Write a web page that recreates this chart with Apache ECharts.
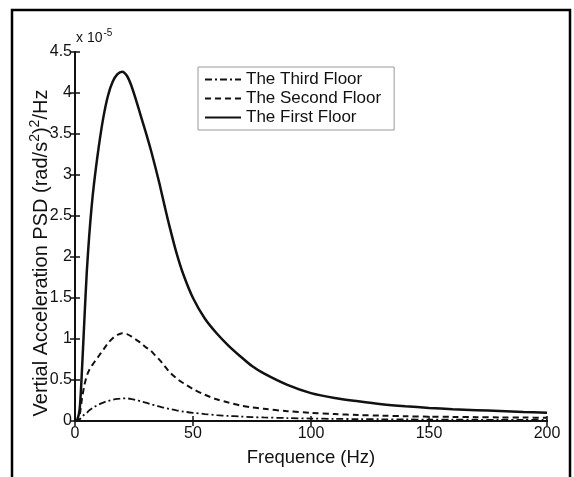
<!DOCTYPE html>
<html>
<head>
<meta charset="utf-8">
<style>
html, body { margin: 0; padding: 0; background: #fff; }
#chart { width: 574px; height: 477px; }
</style>
<script src="https://cdn.jsdelivr.net/npm/echarts@6/dist/echarts.min.js"></script>
</head>
<body>
<div id="chart"></div>
<script>
var myChart = echarts.init(document.getElementById('chart'));

// 频率 (Hz)
var freq = [0, 1, 2, 3, 4, 5, 6, 7, 8, 10, 12, 14, 16, 18, 20, 22, 24, 26, 28, 30, 32, 34, 36, 38, 40, 43, 46, 50, 55, 60, 65, 70, 75, 80, 90, 100, 110, 120, 130, 140, 150, 160, 170, 180, 190, 200];
// PSD, 单位 1e-5
var firstFloor = [0, 0.02, 0.15, 0.65, 1.25, 1.82, 2.25, 2.6, 2.88, 3.33, 3.7, 3.97, 4.14, 4.23, 4.26, 4.21, 4.08, 3.9, 3.71, 3.52, 3.32, 3.1, 2.87, 2.62, 2.38, 2.05, 1.78, 1.5, 1.25, 1.07, 0.92, 0.79, 0.67, 0.58, 0.44, 0.34, 0.28, 0.24, 0.205, 0.18, 0.16, 0.143, 0.132, 0.122, 0.11, 0.1];
var secondFloor = [0, 0, 0.08, 0.28, 0.44, 0.55, 0.62, 0.67, 0.71, 0.79, 0.87, 0.95, 1.01, 1.05, 1.07, 1.06, 1.03, 0.99, 0.95, 0.9, 0.86, 0.8, 0.74, 0.67, 0.6, 0.52, 0.46, 0.39, 0.32, 0.265, 0.225, 0.19, 0.165, 0.148, 0.12, 0.1, 0.085, 0.073, 0.065, 0.058, 0.053, 0.05, 0.047, 0.044, 0.042, 0.04];
var thirdFloor = [0, 0, 0.02, 0.05, 0.08, 0.1, 0.13, 0.15, 0.17, 0.2, 0.225, 0.245, 0.26, 0.27, 0.275, 0.275, 0.268, 0.255, 0.24, 0.225, 0.205, 0.19, 0.175, 0.16, 0.148, 0.13, 0.115, 0.1, 0.085, 0.072, 0.062, 0.055, 0.048, 0.043, 0.036, 0.03, 0.026, 0.023, 0.021, 0.019, 0.017, 0.016, 0.015, 0.014, 0.013, 0.012];

var names = ['The Third Floor', 'The Second Floor', 'The First Floor'];

function pairs(ys) {
	var out = [];
	for (var i = 0; i < freq.length; i++) {
		out.push([freq[i], ys[i]]);
	}
	return out;
}

var font = 'Liberation Sans, Arial, sans-serif';
var ink = '#111';

// 坐标轴样式
function axisBase(extra) {
	var o = {
		type: 'value',
		axisLine: { lineStyle: { color: ink, width: 2 } },
		axisTick: { inside: true, length: 5, lineStyle: { color: ink, width: 1.5 } },
		axisLabel: { color: ink, fontSize: 16, fontFamily: font },
		splitLine: { show: false }
	};
	for (var k in extra) o[k] = extra[k];
	return o;
}

myChart.setOption({
	animation: false,
	grid: {
		left: 75,
		right: 27,
		top: 52,
		bottom: 56
	},
	legend: {
		data: names,
		orient: 'vertical',
		left: 198,
		top: 67,
		itemWidth: 36,
		itemHeight: 14,
		itemGap: 2,
		padding: [4, 13, 4, 6],
		borderColor: '#999',
		borderWidth: 1,
		itemStyle: { opacity: 0 },
		textStyle: {
			color: ink,
			fontSize: 17,
			fontFamily: font
		}
	},
	xAxis: [axisBase({
		min: 0,
		max: 200,
		interval: 50,
		name: 'Frequence (Hz)',
		nameLocation: 'middle',
		nameGap: 27,
		nameTextStyle: { color: ink, fontSize: 18.5, fontFamily: font },
		axisLabel: { color: ink, fontSize: 16, fontFamily: font, margin: 5 }
	}), axisBase({
		position: 'top',
		min: 0,
		max: 200,
		interval: 50,
		axisLabel: { show: false }
	})],
	yAxis: [axisBase({
		min: 0,
		max: 4.5,
		interval: 0.5,
		axisLabel: { color: ink, fontSize: 16, fontFamily: font, margin: 3 }
	}), axisBase({
		position: 'right',
		min: 0,
		max: 4.5,
		interval: 0.5,
		axisLabel: { show: false }
	})],
	graphic: [{
		type: 'rect',
		shape: { x: 12, y: 10, width: 558, height: 520 },
		style: { fill: 'none', stroke: '#000', lineWidth: 2.5 },
		silent: true
	}, {
		type: 'text',
		x: 41,
		y: 253,
		rotation: Math.PI / 2,
		style: {
			text: '{n|Vertial Acceleration PSD (rad/s}{s|2}{n|)}{s|2}{n|/Hz}',
			fill: ink,
			align: 'center',
			verticalAlign: 'middle',
			rich: {
				n: { fontSize: 20, fontFamily: font, fill: ink, lineHeight: 24 },
				s: { fontSize: 14, fontFamily: font, fill: ink, lineHeight: 24, padding: [0, 0, 12, 0] }
			}
		}
	}, {
		type: 'text',
		x: 76,
		y: 48,
		style: {
			text: '{a|x 10}{b|-5}',
			fill: ink,
			align: 'left',
			verticalAlign: 'bottom',
			rich: {
				a: { fontSize: 14, fontFamily: font, fill: ink },
				b: { fontSize: 10, fontFamily: font, fill: ink, padding: [0, 0, 10, 1] }
			}
		}
	}],
	series: [{
		name: 'The First Floor',
		type: 'line',
		data: pairs(firstFloor),
		smooth: 0.3,
		symbol: 'none',
		lineStyle: { color: ink, width: 2.5, type: 'solid' },
		itemStyle: { color: ink }
	}, {
		name: 'The Second Floor',
		type: 'line',
		data: pairs(secondFloor),
		smooth: 0.3,
		symbol: 'none',
		lineStyle: { color: ink, width: 2, type: [6, 4] },
		itemStyle: { color: ink }
	}, {
		name: 'The Third Floor',
		type: 'line',
		data: pairs(thirdFloor),
		smooth: 0.3,
		symbol: 'none',
		lineStyle: { color: ink, width: 1.8, type: [7, 3, 2, 3] },
		itemStyle: { color: ink }
	}]
});

window.addEventListener('resize', function(){
	myChart.resize();
})
</script>
</body>
</html>
